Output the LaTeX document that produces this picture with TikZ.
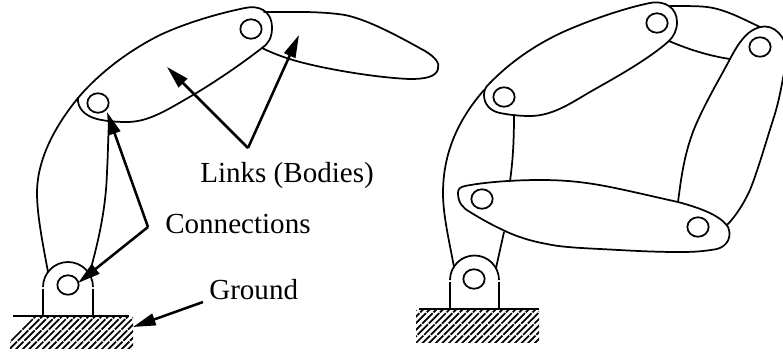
\documentclass[tikz,border=0pt]{standalone}
\usepackage{fontspec}
\setmainfont{Liberation Serif}
\usetikzlibrary{arrows.meta,shapes.geometric}
\tikzset{
  outline/.style={draw=black,line width=1.3pt,line join=round,line cap=round},
  basepart/.style={draw=black,line width=1.3pt,line cap=butt},
  pin/.style={ellipse,draw=black,line width=1.3pt,minimum width=16pt,minimum height=14.6pt,inner sep=0pt},
  callout/.style={draw=black,line width=1.9pt,line join=miter,-{Triangle[length=17pt,width=9pt]}},
  lbl/.style={anchor=base west,inner sep=0pt,font=\fontsize{21.8pt}{24pt}\selectfont},
  groundline/.style={draw=black,line width=1.5pt},
  hatchline/.style={draw=black,line width=1.3pt,dash pattern=on 11pt off 0.9pt}
}
\begin{document}
\begin{tikzpicture}[x=0.75pt,y=-0.75pt]
\useasboundingbox (0,0) rectangle (783,351);
\clip (0,0) rectangle (783,351);
% --- left mechanism ---
\draw[outline] (78,98) .. controls (60,120) and (37,155) .. (37,193) .. controls (37,215) and (43,245) .. (48,272);
\draw[outline] (109,122) .. controls (108,140) and (108,155) .. (107,172) .. controls (106,205) and (100,235) .. (91,268);
\draw[outline] (264,12) .. controls (290,12) and (320,11) .. (345,15) .. controls (370,20) and (405,40) .. (425,51) .. controls (435,57) and (440,63) .. (438,69) .. controls (436,77) and (425,79) .. (410,79) .. controls (380,78) and (330,70) .. (300,62) .. controls (285,58) and (272,53) .. (262,48);
\draw[outline] (78,98) .. controls (100,72) and (130,50) .. (160,35) .. controls (190,21) and (225,12) .. (245,8) .. controls (258,5) and (272,10) .. (272,28) .. controls (272,38) and (268,44) .. (262,48) .. controls (240,65) and (215,82) .. (193,95) .. controls (170,108) and (150,122) .. (127,122) .. controls (115,122) and (105,121) .. (97,119) .. controls (85,116) and (77,108) .. (78,98) -- cycle;
\node[pin] (a1) at (98,103) {};
\node[pin] (a2) at (251,29) {};
\draw[basepart] (43,287) arc[start angle=180,end angle=360,radius=25];
\draw[basepart] (43,288.5) -- (43,316);
\draw[basepart] (93,288.5) -- (93,316);
\node[pin] (a0) at (68,285) {};
\draw[groundline] (13,316) -- (129,316);
\begin{scope}
\clip (10,317) rectangle (133,348);
\foreach \i in {0,...,26} {\draw[hatchline] (\i*6.6,352) -- (\i*6.6+40,312);}
\end{scope}
% callouts
\coordinate (lk) at (248,148);
\coordinate (lt1) at (167,67);
\coordinate (lt2) at (299,35);
\coordinate (cn) at (148,227);
\coordinate (ct1) at (107,112);
\coordinate (ct2) at (78,283);
\coordinate (gs) at (203,302);
\coordinate (gt) at (133,327);
\draw[callout] (lk) -- (lt1);
\draw[callout] (lk) -- (lt2);
\draw[callout] (cn) -- (ct1);
\draw[callout] (cn) -- (ct2);
\draw[callout] (gs) -- (gt);
\node[lbl] (t1) at (200,182) {Links (Bodies)};
\node[lbl] (t2) at (165,233) {Connections};
\node[lbl] (t3) at (209,299) {Ground};
% --- right mechanism ---
\draw[outline] (484,90) .. controls (465,112) and (443,145) .. (443,193) .. controls (443,215) and (449,240) .. (454,267);
\draw[outline] (514,115) .. controls (514,140) and (513,160) .. (510,181);
\draw[outline] (504,232) -- (496,268);
\draw[outline] (670,6) .. controls (685,6) and (700,6) .. (707,7) .. controls (725,9) and (745,20) .. (760,27);
\draw[outline] (669,41) .. controls (690,50) and (710,56) .. (730,59);
\draw[outline] (678,202) .. controls (681,180) and (684,150) .. (698,120) .. controls (708,98) and (720,78) .. (730,59) .. controls (738,44) and (748,27) .. (765,26.5) .. controls (772,26.5) and (778,31) .. (782,37) .. controls (788,45) and (787,62) .. (783,78) .. controls (780,95) and (777,108) .. (773,120) .. controls (765,145) and (758,170) .. (750,190) .. controls (744,203) and (736,216) .. (727,225);
\draw[outline] (484,95) .. controls (484,90) and (486,87) .. (488,85) .. controls (510,62) and (535,45) .. (563,32) .. controls (590,20) and (625,8) .. (650,3) .. controls (665,0) and (677,8) .. (677,22) .. controls (677,30) and (674,36) .. (669,41) .. controls (650,58) and (620,75) .. (597,88) .. controls (575,100) and (555,116) .. (530,116) .. controls (520,116) and (510,115) .. (500,113) .. controls (490,111) and (484,104) .. (484,95) -- cycle;
\draw[outline] (458,193) .. controls (458,189) and (460,187) .. (465,186) .. controls (485,182) and (515,180) .. (540,180) .. controls (565,180) and (585,182) .. (610,187) .. controls (635,192) and (655,197) .. (678,202) .. controls (700,208) and (720,215) .. (728,227) .. controls (732,236) and (728,246) .. (717,249) .. controls (700,252) and (690,252) .. (677,252) .. controls (650,252) and (620,250) .. (600,249) .. controls (580,248) and (560,247) .. (547,244) .. controls (530,241) and (515,236) .. (503,230) .. controls (490,224) and (478,217) .. (470,212) .. controls (463,208) and (458,203) .. (458,193) -- cycle;
\node[pin] (b1) at (504,97) {};
\node[pin] (b2) at (657,23) {};
\node[pin] (b3) at (760,47) {};
\node[pin] (b4) at (482,199) {};
\node[pin] (b5) at (698,227) {};
\draw[basepart] (450,280) arc[start angle=180,end angle=360,radius=24.5];
\draw[basepart] (450,281.5) -- (450,308);
\draw[basepart] (499,281.5) -- (499,308);
\node[pin] (b0) at (474,279) {};
\draw[groundline] (419,309) -- (539,309);
\begin{scope}
\clip (416,310) rectangle (539,342);
\foreach \i in {0,...,26} {\draw[hatchline] (380+\i*6.6,346) -- (380+\i*6.6+40,306);}
\end{scope}
\end{tikzpicture}
\end{document}
